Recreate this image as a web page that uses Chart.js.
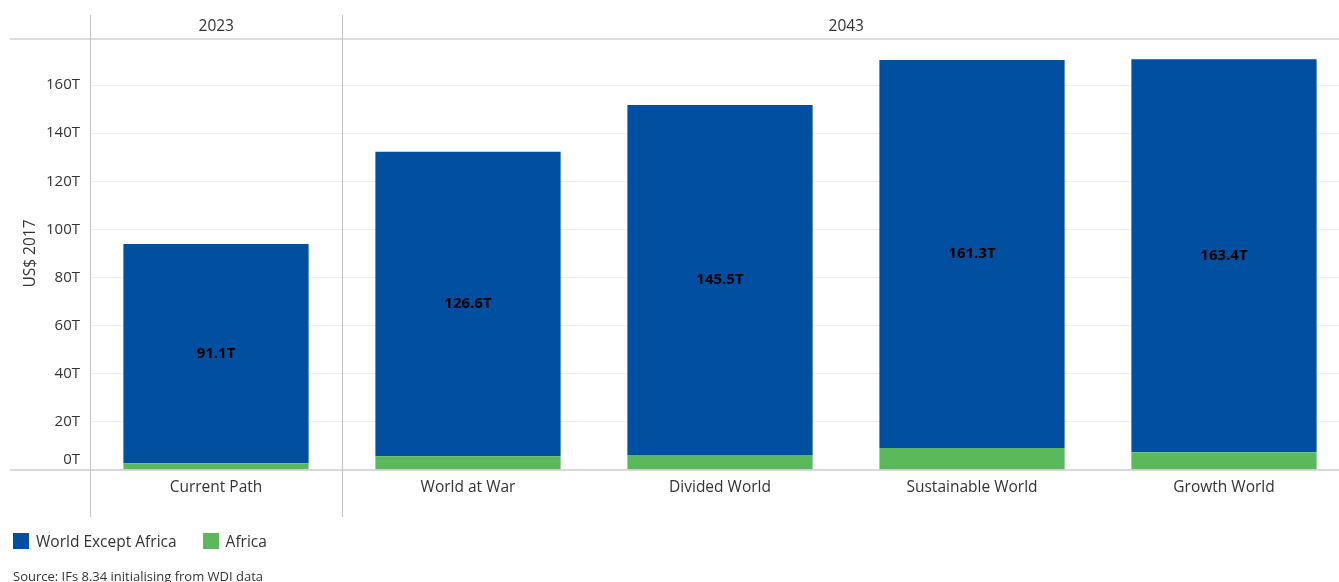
<!DOCTYPE html>
<html>
<head>
<meta charset="utf-8">
<title>GDP by scenario</title>
<script src="https://cdn.jsdelivr.net/npm/chart.js@4.4.1/dist/chart.umd.min.js"></script>
<style>
  html, body { margin: 0; padding: 0; background: #fff; overflow: hidden; }
  #frame { position: relative; width: 1339px; height: 582px; overflow: hidden; font-family: "Open Sans", sans-serif; color: #333; }
  #wrap { position: absolute; left: 0; top: 0; width: 1352px; height: 582px; }
  #legend { position: absolute; left: 13px; top: 530px; display: flex; align-items: center; font-size: 15.5px; }
  .item { display: flex; align-items: center; margin-right: 26px; }
  .swatch { width: 16px; height: 16px; margin-right: 7px; }
  #source { position: absolute; left: 13px; top: 567px; font-size: 13px; color: #333; }
</style>
</head>
<body>
<div id="frame">
  <div id="wrap"><canvas id="chart" width="1352" height="582"></canvas></div>
  <div id="legend"></div>
  <div id="source">Source: IFs 8.34 initialising from WDI data</div>
</div>
<script>
// Scenario categories and the year each one belongs to
const categories = ['Current Path', 'World at War', 'Divided World', 'Sustainable World', 'Growth World'];
const years = ['2023', '2043', '2043', '2043', '2043'];

// GDP, trillions of US$ 2017
const worldExceptAfrica = [91.1, 126.6, 145.5, 161.3, 163.4];
const africa = [2.8, 5.7, 6.2, 9.1, 7.4];

// Value axis
const yMax = 180;
const yStep = 20;

const BLUE = '#004fa0';
const GREEN = '#5cb85c';
const FONT = '"Open Sans", sans-serif';

// Year groups built from the years list
const groups = [];
years.forEach((y, i) => {
  const last = groups[groups.length - 1];
  if (last && last.label === y) last.to = i;
  else groups.push({ label: y, from: i, to: i });
});

const frameLines = {
  id: 'frameLines',
  afterDraw(chart) {
    const { ctx, chartArea, scales } = chart;
    const xs = scales.x, ys = scales.y;
    const half = (xs.getPixelForValue(1) - xs.getPixelForValue(0)) / 2;
    ctx.save();
    // header rule
    ctx.strokeStyle = '#dddddd';
    ctx.lineWidth = 2;
    ctx.beginPath(); ctx.moveTo(10, 39); ctx.lineTo(chart.width, 39); ctx.stroke();
    // base line
    const y0 = ys.getPixelForValue(0);
    ctx.strokeStyle = '#cccccc';
    ctx.lineWidth = 1.5;
    ctx.beginPath(); ctx.moveTo(10, y0); ctx.lineTo(chart.width, y0); ctx.stroke();
    // group separators and year labels
    ctx.strokeStyle = '#c4c4c4';
    ctx.lineWidth = 1;
    ctx.fillStyle = '#333';
    ctx.font = '15.5px ' + FONT;
    ctx.textAlign = 'center';
    ctx.textBaseline = 'middle';
    groups.forEach(g => {
      const l = Math.round(xs.getPixelForValue(g.from) - half) + 0.5;
      const r = xs.getPixelForValue(g.to) + half;
      ctx.beginPath(); ctx.moveTo(l, 15); ctx.lineTo(l, 517); ctx.stroke();
      ctx.fillText(g.label, (l + r) / 2, 27);
    });
    // zero tick label sits just above the base line
    ctx.textAlign = 'right';
    ctx.font = '15px ' + FONT;
    ctx.fillText('0T', chartArea.left - 10, y0 - 10);
    ctx.restore();
  }
};

const valueLabels = {
  id: 'valueLabels',
  afterDatasetsDraw(chart) {
    const { ctx } = chart;
    const idx = chart.data.datasets.findIndex(d => d.label === 'World Except Africa');
    const meta = chart.getDatasetMeta(idx);
    ctx.save();
    ctx.fillStyle = '#000';
    ctx.font = 'bold 15px ' + FONT;
    ctx.textAlign = 'center';
    ctx.textBaseline = 'middle';
    meta.data.forEach((el, i) => {
      const v = chart.data.datasets[idx].data[i];
      ctx.fillText(v.toFixed(1) + 'T', el.x, (el.y + el.base) / 2);
    });
    ctx.restore();
  }
};

const datasets = [
  { label: 'Africa', data: africa, backgroundColor: GREEN },
  { label: 'World Except Africa', data: worldExceptAfrica, backgroundColor: BLUE }
];

new Chart(document.getElementById('chart'), {
  type: 'bar',
  data: { labels: categories, datasets },
  options: {
    responsive: false,
    animation: false,
    layout: { padding: { top: 37, right: 2, left: 0, bottom: 0 } },
    datasets: { bar: { categoryPercentage: 1, barPercentage: 0.735, borderWidth: 0 } },
    plugins: { legend: { display: false }, tooltip: { enabled: false } },
    scales: {
      x: {
        stacked: true,
        grid: { display: false },
        border: { display: false },
        ticks: { color: '#333', font: { family: FONT, size: 15.5 }, padding: 0 },
        afterFit(s) { s.height = 112; }
      },
      y: {
        stacked: true,
        min: 0,
        max: yMax,
        border: { display: false },
        grid: {
          drawTicks: false,
          color: c => (c.tick.value === 0 || c.tick.value === yMax) ? 'rgba(0,0,0,0)' : '#f0f0f0'
        },
        ticks: {
          stepSize: yStep,
          padding: 10,
          font: { family: FONT, size: 15 },
          color: c => c.tick.value === 0 ? 'rgba(0,0,0,0)' : '#333',
          callback: v => v === yMax ? '' : v + 'T'
        },
        title: {
          display: true,
          text: 'US$ 2017',
          color: '#333',
          font: { family: FONT, size: 15.5 },
          padding: { top: 21, bottom: 0 }
        },
        afterFit(s) { s.width = 90; }
      }
    }
  },
  plugins: [frameLines, valueLabels]
});

// Legend, listed top series first
const legend = document.getElementById('legend');
datasets.slice().reverse().forEach(d => {
  const item = document.createElement('div');
  item.className = 'item';
  const sw = document.createElement('span');
  sw.className = 'swatch';
  sw.style.background = d.backgroundColor;
  const tx = document.createElement('span');
  tx.textContent = d.label;
  item.appendChild(sw);
  item.appendChild(tx);
  legend.appendChild(item);
});
</script>
</body>
</html>
